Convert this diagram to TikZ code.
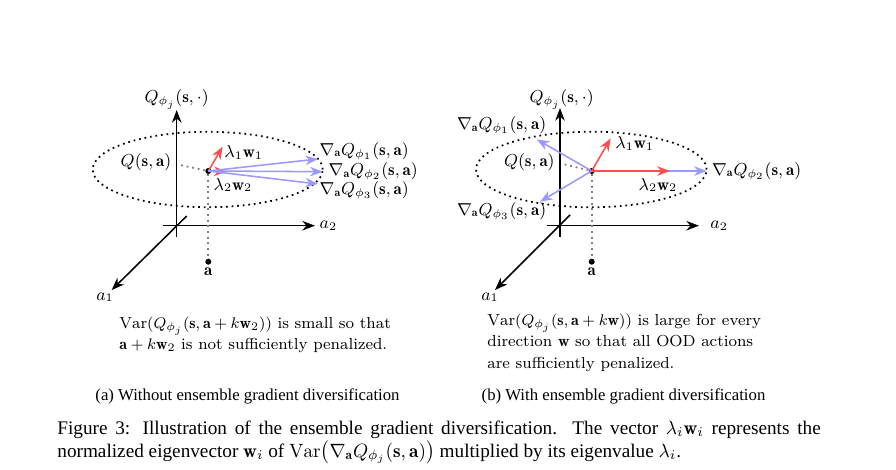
\documentclass[tikz,border=0pt]{standalone}
\usepackage{amsmath}
\usepackage{fontspec}
\newfontfamily\capfont{Liberation Serif}
\usetikzlibrary{arrows.meta}
\newcommand{\figsize}{\fontsize{8.75}{11}\selectfont}
\newcommand{\notesize}{\fontsize{8.3}{11.2}\selectfont}
\newcommand{\subsize}{\capfont\fontsize{8.7}{10.5}\selectfont}
\begin{document}
\begin{tikzpicture}[x=0.52pt,y=0.52pt]
		\tikzstyle{every node}+=[inner sep=0pt, font=\figsize]
		\tikzstyle{axis}=[black, thick, -{Stealth}]
		\tikzstyle{gradarrow}=[blue!40, thick, -{Stealth}]
		\tikzstyle{eigarrow}=[red!70, thick, -{Stealth}]
		\tikzstyle{guide}=[black!50, dotted, line width=0.95pt]
		\tikzstyle{level}=[black, dotted, line width=0.9pt]
		\tikzstyle{dot}=[circle, fill=black, inner sep=1.1pt]
		\useasboundingbox (0,0) rectangle (896,-469);
		\coordinate (qbotA) at (176.7,-236.7);
		\coordinate (qtopA) at (176.7,-110);
		\coordinate (hleftA) at (163,-225.7);
		\coordinate (hrightA) at (315,-225.7);
		\coordinate (dtopA) at (186.7,-216);
		\coordinate (dbotA) at (111.7,-290);
		\draw [axis] (qbotA) -- (qtopA);
		\draw [axis] (hleftA) -- (hrightA);
		\draw [axis] (dtopA) -- (dbotA);
		\node [anchor=base] (qlabA) at (176.7,-102.7) {$Q_{\phi_j}(\mathbf{s},\cdot)$};
		\node [anchor=base west] (atwoA) at (319.3,-228.3) {$a_2$};
		\node [anchor=base] (aoneA) at (105,-300) {$a_1$};
		\draw [level] (207.7,-169.5) ellipse (115 and 37.7);
		\node [dot] (pA) at (208.3,-171) {};
		\node [dot] (actA) at (208.3,-261.7) {};
		\node [anchor=base] (actlabA) at (208.3,-275.7) {$\mathbf{a}$};
		\coordinate (guideA) at (180,-165);
		\draw [guide] (pA) -- (guideA);
		\draw [guide] (pA) -- (actA);
		\node [anchor=base east] (qsaA) at (171.7,-166) {$Q(\mathbf{s},\mathbf{a})$};
		\coordinate (eoneA) at (222.7,-146.7);
		\coordinate (etwoA) at (226.7,-171.7);
		\coordinate (goneA) at (318,-159);
		\coordinate (gtwoA) at (322.7,-171.7);
		\coordinate (gthreeA) at (318,-184);
		\draw [eigarrow] (pA.center) -- (eoneA);
		\draw [eigarrow] (pA.center) -- (etwoA);
		\draw [gradarrow] (pA.center) -- (goneA);
		\draw [gradarrow] (pA.center) -- (gtwoA);
		\draw [gradarrow] (pA.center) -- (gthreeA);
		\node [anchor=base west] (lwoneA) at (224,-157.3) {$\lambda_1\mathbf{w}_1$};
		\node [anchor=base west] (lwtwoA) at (213.3,-190) {$\lambda_2\mathbf{w}_2$};
		\node [anchor=base west] (gradoneA) at (319.3,-155) {$\nabla_{\mathbf{a}}Q_{\phi_1}(\mathbf{s},\mathbf{a})$};
		\node [anchor=base west] (gradtwoA) at (328.3,-175.7) {$\nabla_{\mathbf{a}}Q_{\phi_2}(\mathbf{s},\mathbf{a})$};
		\node [anchor=base west] (gradthreeA) at (319.3,-194.3) {$\nabla_{\mathbf{a}}Q_{\phi_3}(\mathbf{s},\mathbf{a})$};
		\coordinate (qbotB) at (560,-236.7);
		\coordinate (qtopB) at (560,-108);
		\coordinate (hleftB) at (547,-225.7);
		\coordinate (hrightB) at (699,-225.7);
		\coordinate (dtopB) at (570,-215);
		\coordinate (dbotB) at (495,-290);
		\draw [axis] (qbotB) -- (qtopB);
		\draw [axis] (hleftB) -- (hrightB);
		\draw [axis] (dtopB) -- (dbotB);
		\node [anchor=base] (qlabB) at (561.7,-102.7) {$Q_{\phi_j}(\mathbf{s},\cdot)$};
		\node [anchor=base west] (atwoB) at (710,-228.3) {$a_2$};
		\node [anchor=base] (aoneB) at (490,-300) {$a_1$};
		\draw [level] (591.3,-169.5) ellipse (115.3 and 37.8);
		\node [dot] (pB) at (591.7,-171) {};
		\node [dot] (actB) at (591.7,-261.7) {};
		\node [anchor=base] (actlabB) at (591.7,-275.7) {$\mathbf{a}$};
		\coordinate (guideB) at (563,-164);
		\draw [guide] (pB) -- (guideB);
		\draw [guide] (pB) -- (actB);
		\node [anchor=base east] (qsaB) at (555,-166) {$Q(\mathbf{s},\mathbf{a})$};
		\coordinate (eoneB) at (610.7,-138.3);
		\coordinate (etwoB) at (670,-171);
		\coordinate (goneB) at (536.7,-139.3);
		\coordinate (gtwoB) at (706.7,-171);
		\coordinate (gthreeB) at (540,-201.7);
		\draw [gradarrow] (pB.center) -- (goneB);
		\draw [gradarrow] (pB.center) -- (gtwoB);
		\draw [gradarrow] (pB.center) -- (gthreeB);
		\draw [eigarrow] (pB.center) -- (eoneB);
		\draw [eigarrow] (pB.center) -- (etwoB);
		\node [anchor=base west] (lwoneB) at (615,-148.3) {$\lambda_1\mathbf{w}_1$};
		\node [anchor=base west] (lwtwoB) at (638.3,-190) {$\lambda_2\mathbf{w}_2$};
		\node [anchor=base west] (gradoneB) at (456.7,-129.3) {$\nabla_{\mathbf{a}}Q_{\phi_1}(\mathbf{s},\mathbf{a})$};
		\node [anchor=base west] (gradtwoB) at (711.7,-175) {$\nabla_{\mathbf{a}}Q_{\phi_2}(\mathbf{s},\mathbf{a})$};
		\node [anchor=base west] (gradthreeB) at (456.7,-215) {$\nabla_{\mathbf{a}}Q_{\phi_3}(\mathbf{s},\mathbf{a})$};
		\node [anchor=base west, align=left, font=\notesize] (noteA) at (119,-349.7) {$\mathrm{Var}(Q_{\phi_j}(\mathbf{s},\mathbf{a}+k\mathbf{w}_2))$ is small so that\\$\mathbf{a}+k\mathbf{w}_2$ is not sufficiently penalized.};
		\node [anchor=base west, align=left, font=\notesize] (noteB) at (487,-368.3) {$\mathrm{Var}(Q_{\phi_j}(\mathbf{s},\mathbf{a}+k\mathbf{w}))$ is large for every\\direction $\mathbf{w}$ so that all OOD actions\\are sufficiently penalized.};
		\node [anchor=base, font=\subsize] (subA) at (247.5,-400) {(a) Without ensemble gradient diversification};
		\node [anchor=base, font=\subsize] (subB) at (623.5,-400) {(b) With ensemble gradient diversification};
		\node [anchor=base west, text width=397pt, align=justify, font=\capfont\normalsize] (cap) at (57,-434) {Figure 3: Illustration of the ensemble gradient diversification. The vector $\lambda_i\mathbf{w}_i$ represents the\linebreak normalized eigenvector $\mathbf{w}_i$ of $\mathrm{Var}\big(\nabla_{\mathbf{a}}Q_{\phi_j}(\mathbf{s},\mathbf{a})\big)$ multiplied by its eigenvalue $\lambda_i$.};
	\end{tikzpicture}
\end{document}
